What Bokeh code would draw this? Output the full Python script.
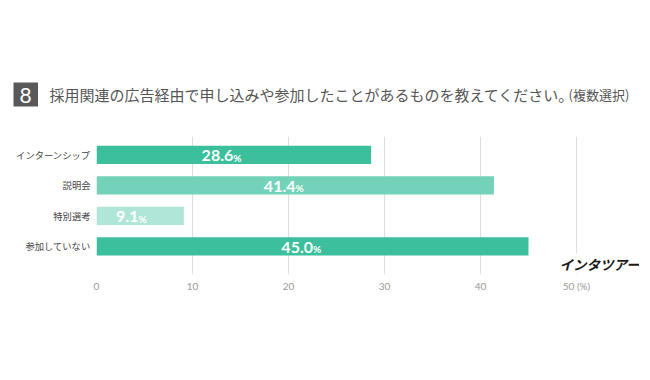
from bokeh.plotting import figure
from bokeh.layouts import column
from bokeh.models import Range1d, FixedTicker, Label, ColumnDataSource
from bokeh.embed import file_html
from bokeh.resources import INLINE
from bokeh.core.properties import value

categories = ["インターンシップ", "説明会", "特別選考", "参加していない"]
values = [28.6, 41.4, 9.1, 45.0]
bar_colors = ["#3BBF9C", "#73D2B9", "#B0E6D7", "#3BBF9C"]
x_ticks = [0, 10, 20, 30, 40, 50]
x_tick_labels = ["0", "10", "20", "30", "40", "50 (%)"]
title_number = "8"
title_text = "採用関連の広告経由で申し込みや参加したことがあるものを教えてください。"
title_note = "(複数選択)"
brand = "インタツアー"

W = 639
TH = 120
FW = 543
PX_PER_UNIT = 9.6

# ---------- title strip (pixel coordinates, y downwards) ----------
t = figure(width=W, height=TH, x_range=Range1d(0, W), y_range=Range1d(TH, 0),
           output_backend="svg", toolbar_location=None, min_border=0)
t.frame_align = False
t.axis.visible = False
t.grid.visible = False
t.outline_line_color = None
t.background_fill_color = "white"
t.border_fill_color = "white"
t.quad(left=[13], right=[37.5], top=[82], bottom=[106], fill_color="#595959", line_color=None)
t.text(x=[25.2], y=[94.5], text=[title_number], text_align="center", text_baseline="middle",
       text_color="white", text_font=value("Lato"), text_font_size="21px")
t.text(x=[49], y=[94], text=[title_text], text_align="left", text_baseline="middle",
       text_color="#555555", text_font=value("Noto Sans CJK JP"), text_font_size="15px")
t.text(x=[568], y=[94], text=[title_note], text_align="left", text_baseline="middle",
       text_color="#555555", text_font=value("Noto Sans CJK JP"), text_font_size="13px")

# ---------- bar chart ----------
ys = list(range(len(categories)))
num_labels = [f"{v:.1f}" for v in values]
label_x = [v * 0.5065 - 0.24 for v in values]

src = ColumnDataSource(dict(y=ys, right=values, color=bar_colors, num=num_labels,
                            lx=label_x, pct=["%"] * len(values)))

p = figure(frame_width=FW, frame_height=138,
           x_range=Range1d(0, FW / PX_PER_UNIT), y_range=Range1d(3.925, -0.6),
           output_backend="svg", toolbar_location=None,
           min_border_left=96, min_border_top=16, min_border_right=0, min_border_bottom=86)
p.frame_align = False
p.outline_line_color = None
p.background_fill_color = "white"
p.border_fill_color = "white"

p.hbar(y="y", right="right", left=0, height=0.6, fill_color="color", line_color=None, source=src)
p.text(x="lx", y="y", text="num", text_align="right", text_baseline="middle", y_offset=1,
       text_font=value("Lato"), text_font_style="bold", text_font_size="16px", text_color="white",
       source=src)
p.text(x="lx", y="y", text="pct", text_align="left", text_baseline="middle", y_offset=3,
       text_font=value("Lato"), text_font_style="bold", text_font_size="10px", text_color="white",
       source=src)

# y axis
p.yaxis.ticker = FixedTicker(ticks=ys)
p.yaxis.major_label_overrides = {y: c for y, c in zip(ys, categories)}
p.yaxis.axis_line_color = None
p.yaxis.major_tick_line_color = None
p.yaxis.major_tick_in = 0
p.yaxis.major_tick_out = 0
p.yaxis.minor_tick_line_color = None
p.yaxis.major_label_standoff = 6
p.yaxis.major_label_text_font = "Noto Sans CJK JP"
p.yaxis.major_label_text_font_size = "9.3px"
p.yaxis.major_label_text_color = "#444444"

# x axis
p.xaxis.ticker = FixedTicker(ticks=x_ticks)
p.xaxis.major_label_overrides = {t_: l for t_, l in zip(x_ticks, x_tick_labels)}
p.xaxis.axis_line_color = None
p.xaxis.major_tick_line_color = None
p.xaxis.major_tick_in = 0
p.xaxis.major_tick_out = 0
p.xaxis.minor_tick_line_color = None
p.xaxis.major_label_standoff = 5
p.xaxis.major_label_text_font = "Lato"
p.xaxis.major_label_text_font_size = "10px"
p.xaxis.major_label_text_color = "#999999"

p.ygrid.grid_line_color = None
p.xgrid.ticker = FixedTicker(ticks=x_ticks)
p.xgrid.grid_line_color = "#dddddd"

p.add_layout(Label(x=463, y=11, x_units="screen", y_units="screen", text=brand,
                   text_baseline="middle", text_color="#1a1a1a", text_font_style="bold italic",
                   text_font="Noto Sans CJK JP", text_font_size="13.5px",
                   background_fill_color="white"))

layout = column(t, p, spacing=0)
open("out.html", "w").write(file_html(layout, INLINE))
